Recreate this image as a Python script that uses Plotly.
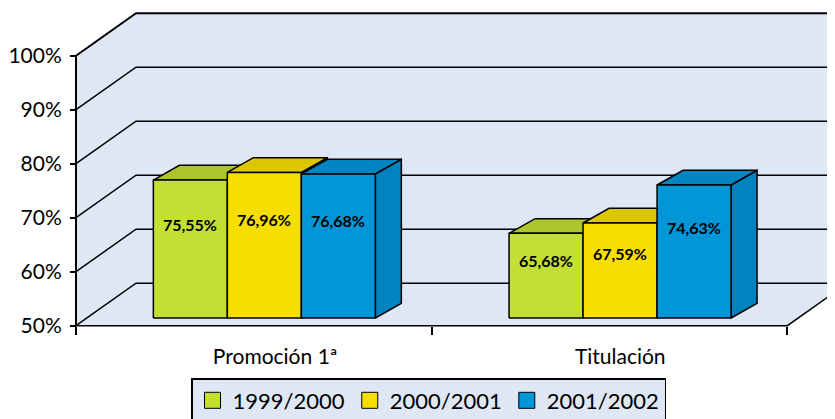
import plotly.graph_objects as go

# ---------------- data ----------------
categories = ["Promoción 1ª", "Titulación"]
series_names = ["1999/2000", "2000/2001", "2001/2002"]
values_1999_2000 = [75.55, 65.68]
values_2000_2001 = [76.96, 67.59]
values_2001_2002 = [76.68, 74.63]
y_tick_values = [50, 60, 70, 80, 90, 100]
y_tick_labels = ["50%", "60%", "70%", "80%", "90%", "100%"]

series_values = [values_1999_2000, values_2000_2001, values_2001_2002]

# ---------------- style ----------------
front_colors = ["#C4DF34", "#F6DE00", "#0096D8"]
top_colors = ["#AEC62E", "#DCC600", "#0085C2"]
side_colors = ["#A2B92A", "#CDB800", "#0083BF"]
wall_color = "#DEE7F3"
FONT = "Lato"

OFF = 8  # default page margin of the html body
W, H = 835, 419 - OFF
PX_X = 355.7          # pixels per category unit
PX_Y = 5.4            # pixels per percentage point
ORIGIN_X_PX, ORIGIN_Y_PX = 76 - OFF, 325.7 - OFF
PLOT_L, PLOT_R, PLOT_T, PLOT_B = 70 - OFF, W, 4, 330 - OFF

x_range = [(PLOT_L - ORIGIN_X_PX) / PX_X, (PLOT_R - ORIGIN_X_PX) / PX_X]
y_min = y_tick_values[0]
y_max = y_tick_values[-1]
y_range = [y_min - (PLOT_B - ORIGIN_Y_PX) / PX_Y, y_min + (ORIGIN_Y_PX - PLOT_T) / PX_Y]

WALL_DX, WALL_DY = 60 / PX_X, 42.5 / PX_Y
BAR_FRONT_DX, BAR_FRONT_DY = 10.5 / PX_X, 7.7 / PX_Y
BAR_DEPTH_DX, BAR_DEPTH_DY = 26 / PX_X, 14.7 / PX_Y
BAR_W = 74 / PX_X
LABEL_FRAC = 0.68
n_cat = len(categories)
XBIG = x_range[1] + 1

fig = go.Figure()

def poly(xs, ys, fill, lw=1.5):
    fig.add_trace(go.Scatter(
        x=xs + [xs[0]], y=ys + [ys[0]], mode="lines", fill="toself",
        fillcolor=fill, line=dict(color="black", width=lw),
        hoverinfo="skip", showlegend=False))

def line(xs, ys, lw=1.5):
    fig.add_trace(go.Scatter(
        x=xs, y=ys, mode="lines", line=dict(color="black", width=lw),
        hoverinfo="skip", showlegend=False))

# walls + floor background
fig.add_trace(go.Scatter(
    x=[0, 0, WALL_DX, XBIG, XBIG, n_cat + WALL_DX, n_cat, 0],
    y=[y_min, y_max, y_max + WALL_DY, y_max + WALL_DY, y_min + WALL_DY,
       y_min + WALL_DY, y_min, y_min],
    mode="none", fill="toself", fillcolor=wall_color,
    hoverinfo="skip", showlegend=False))

# gridlines on side wall and back wall
for v in y_tick_values:
    line([0, WALL_DX, XBIG], [v, v + WALL_DY, v + WALL_DY],
         lw=2 if v == y_max else 1.5)
# floor front edge
line([0, n_cat, n_cat + WALL_DX], [y_min, y_min, y_min + WALL_DY], lw=1.5)
# vertical axis line
line([0, 0], [y_min, y_max], lw=2)

# 3D bars
annotations = []
for c in range(n_cat):
    for s, vals in enumerate(series_values):
        v = vals[c]
        x0 = c + 0.5 + BAR_FRONT_DX + (s - len(series_values) / 2) * BAR_W
        x1 = x0 + BAR_W
        yb = y_min + BAR_FRONT_DY
        yt = v + BAR_FRONT_DY
        # side face
        poly([x1, x1 + BAR_DEPTH_DX, x1 + BAR_DEPTH_DX, x1],
             [yb, yb + BAR_DEPTH_DY, yt + BAR_DEPTH_DY, yt], side_colors[s])
        # top face
        poly([x0, x1, x1 + BAR_DEPTH_DX, x0 + BAR_DEPTH_DX],
             [yt, yt, yt + BAR_DEPTH_DY, yt + BAR_DEPTH_DY], top_colors[s])
        # front face
        poly([x0, x1, x1, x0], [yb, yb, yt, yt], front_colors[s])
        annotations.append(dict(
            x=(x0 + x1) / 2, y=yb + LABEL_FRAC * (v - y_min),
            xref="x", yref="y", showarrow=False,
            text="<b>" + f"{v:.2f}".replace(".", ",") + "%</b>",
            font=dict(family=FONT, size=16, color="black")))

# legend entries
for s, name in enumerate(series_names):
    fig.add_trace(go.Scatter(
        x=[None], y=[None], mode="markers", name=name,
        marker=dict(symbol="square", size=16, color=front_colors[s],
                    line=dict(color="black", width=1)),
        hoverinfo="skip", showlegend=True))

fig.update_layout(
    width=W, height=H,
    margin=dict(l=PLOT_L, r=W - PLOT_R, t=PLOT_T, b=H - PLOT_B, pad=0,
                autoexpand=False),
    paper_bgcolor="white", plot_bgcolor="white",
    font=dict(family=FONT, size=20, color="black"),
    showlegend=True,
    legend=dict(
        orientation="h", x=(191 - OFF - PLOT_L) / (PLOT_R - PLOT_L), xanchor="left",
        y=(PLOT_B - (378 - OFF)) / (PLOT_B - PLOT_T), yanchor="top",
        bgcolor=wall_color, bordercolor="black", borderwidth=1.5,
        font=dict(family=FONT, size=22, color="black"),
        itemsizing="trace", traceorder="normal"),
    annotations=annotations,
    xaxis=dict(
        range=x_range, showgrid=False, zeroline=False, showline=False,
        anchor="free", position=(PLOT_B - ORIGIN_Y_PX) / (PLOT_B - PLOT_T),
        tickmode="array", tickvals=[0.56, 1.53], ticktext=categories,
        ticks="", ticklabelstandoff=16,
        tickfont=dict(family=FONT, size=21, color="black"),
        minor=dict(tickmode="array", tickvals=list(range(n_cat + 1)),
                   ticks="outside", ticklen=8, tickwidth=1.5, tickcolor="black"),
        fixedrange=True),
    yaxis=dict(
        range=y_range, showgrid=False, zeroline=False, showline=False,
        anchor="free", position=(ORIGIN_X_PX - PLOT_L) / (PLOT_R - PLOT_L),
        tickmode="array", tickvals=y_tick_values, ticktext=y_tick_labels,
        ticks="outside", ticklen=6, tickwidth=2, tickcolor="black",
        ticklabelstandoff=4,
        tickfont=dict(family=FONT, size=21, color="black"),
        fixedrange=True),
)

fig.write_html("out.html")
